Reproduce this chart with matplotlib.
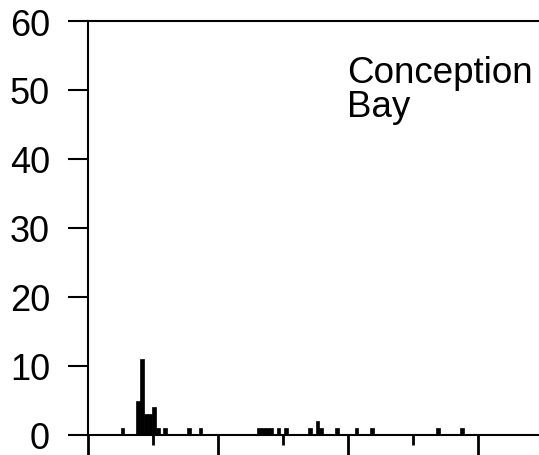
import matplotlib.pyplot as plt
from matplotlib.ticker import MultipleLocator

# bin left edges (x units, 100 per major tick) and counts
bin_left = [25, 37, 40, 43, 46, 49, 52, 58, 76, 85,
            130, 133, 136, 139, 145, 151, 169, 175, 178, 190, 205, 217, 268, 286]
counts = [1, 5, 11, 3, 3, 4, 1, 1, 1, 1,
          1, 1, 1, 1, 1, 1, 1, 2, 1, 1, 1, 1, 1, 1]
bin_width = 3
y_ticks = [0, 10, 20, 30, 40, 50, 60]
label = "Conception\nBay"

plt.rcParams['font.family'] = ['Liberation Sans', 'DejaVu Sans']

fig = plt.figure(figsize=(5.39, 4.56), dpi=100)
ax = fig.add_axes([88 / 539, 20 / 456, (539 - 88) / 539, 414 / 456])

ax.bar(bin_left, counts, width=bin_width, align='edge', color='black',
       edgecolor='black', linewidth=0.5)

ax.set_xlim(0, (539 - 88) / 1.3)
ax.set_ylim(0, 60)
ax.set_yticks(y_ticks)
ax.xaxis.set_major_locator(MultipleLocator(100))
ax.xaxis.set_minor_locator(MultipleLocator(50))
ax.set_xticklabels([])

ax.spines['right'].set_visible(False)
for s in ['left', 'top', 'bottom']:
    ax.spines[s].set_linewidth(1.5)

ax.tick_params(axis='y', direction='out', length=14.4, width=1.5,
               labelsize=26, pad=13)
ax.tick_params(axis='x', which='major', direction='out', length=14.4, width=2)
ax.tick_params(axis='x', which='minor', direction='out', length=7.5, width=2)

# text placed in display pixels (from bottom-left of figure)
ax.text(347, 456 - 56, label, transform=None, fontsize=26.5, va='top',
        ha='left', linespacing=0.95)

fig.savefig("out.png", dpi=100)
